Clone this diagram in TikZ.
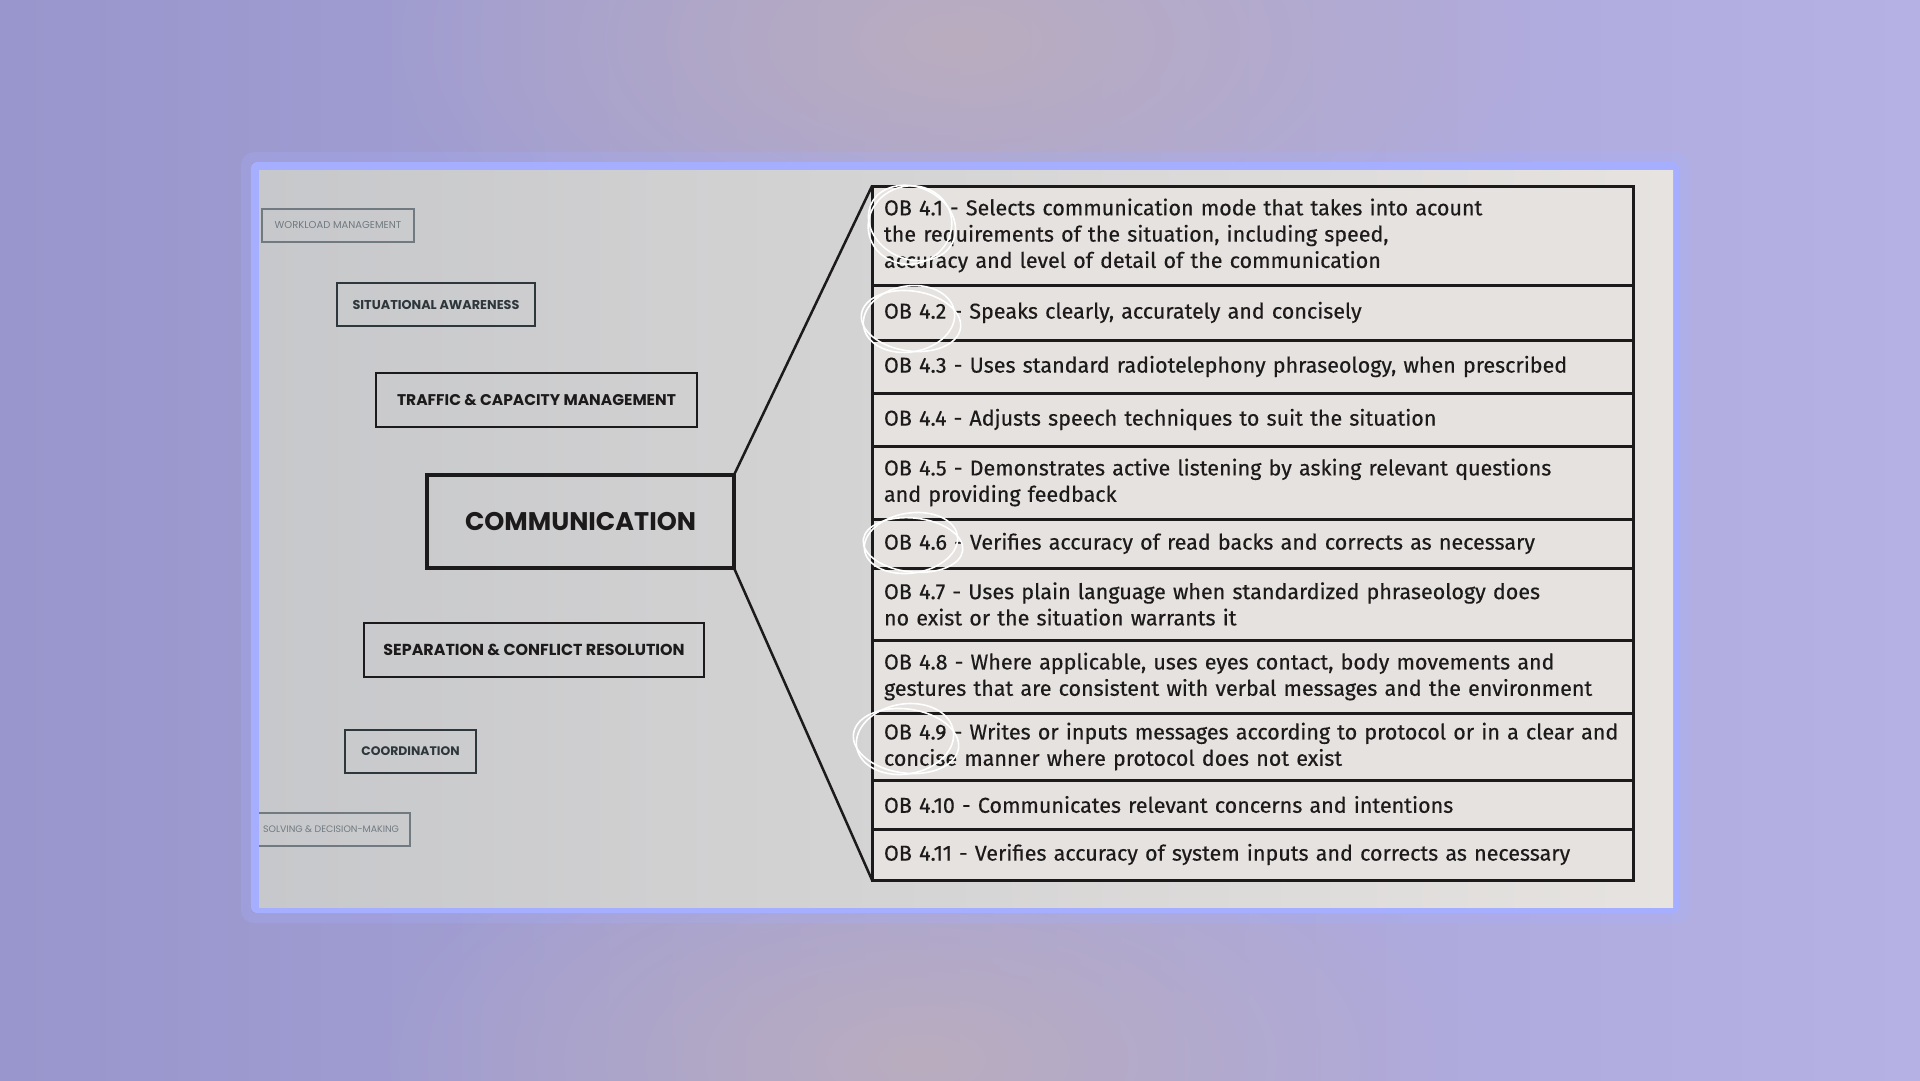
\documentclass[tikz,border=0pt]{standalone}
\usepackage{fontspec}
\setmainfont{Fira Sans}
\newfontfamily\obfont{Fira Sans}[FakeBold=0.4]
\newfontfamily\capsfont{Poppins}
\usetikzlibrary{calc,fadings}

\definecolor{bgleft}{RGB}{152,150,204}
\definecolor{bgmid}{RGB}{172,166,212}
\definecolor{bgright}{RGB}{182,177,228}
\definecolor{bgwarm}{RGB}{188,174,188}
\definecolor{panelblue}{RGB}{166,174,255}
\definecolor{panelleft}{RGB}{199,200,203}
\definecolor{panelright}{RGB}{230,227,224}
\definecolor{rowfill}{RGB}{229,226,223}
\definecolor{inkdark}{RGB}{28,26,26}
\definecolor{inkmid}{RGB}{45,55,60}
\definecolor{inkfaint}{RGB}{112,122,128}

\tikzfading[name=softglow, inner color=transparent!0, outer color=transparent!100]

\tikzset{
  catbox/.style={draw=inkdark, text=inkdark, rectangle, inner sep=0pt, outer sep=0pt},
  obrow/.style={draw=inkdark, line width=3pt, fill=rowfill, anchor=north west,
    minimum width=761pt, text width=737pt, inner xsep=12pt, inner ysep=0pt,
    align=left, outer sep=0pt, text=inkdark,
    font=\obfont\fontsize{21.5}{26.3}\selectfont},
  fanline/.style={draw=inkdark, line width=2.5pt},
  scribble/.style={draw=white, line width=1.6pt},
}

\begin{document}
\begin{tikzpicture}[x=1pt,y=-1pt]
        \useasboundingbox (0,0) rectangle (1920,1080);
        % background and framed panel
        \shade[left color=bgleft, middle color=bgmid, right color=bgright] (0,0) rectangle (1920,1080);
        \fill[bgwarm, path fading=softglow, opacity=0.9] (960,40) ellipse [x radius=600, y radius=300];
        \fill[bgwarm, path fading=softglow, opacity=0.9] (920,1060) ellipse [x radius=560, y radius=280];
        \draw[panelblue, opacity=0.25, line width=10pt, rounded corners=8pt] (246,157) rectangle (1684,918);
        \fill[panelblue, rounded corners=6pt] (251,162) rectangle (1679,913);
        \shade[left color=panelleft, right color=panelright] (259,170) rectangle (1673,907);

        % competency boxes
        \node[catbox, draw=inkfaint, text=inkfaint, line width=1.5pt, minimum width=152pt, minimum height=33pt,
              font=\capsfont\fontsize{10}{12}\selectfont] (workload) at (338,225.5) {WORKLOAD MANAGEMENT};
        \node[catbox, draw=inkmid, text=inkmid, line width=1.6pt, minimum width=198pt, minimum height=43pt,
              font=\capsfont\bfseries\fontsize{12.8}{15}\selectfont] (awareness) at (436,304.5) {SITUATIONAL AWARENESS};
        \node[catbox, line width=2pt, minimum width=321pt, minimum height=54pt,
              font=\capsfont\bfseries\fontsize{15.5}{18}\selectfont] (traffic) at (536.5,400) {TRAFFIC \& CAPACITY MANAGEMENT};
        \node[catbox, line width=3.5pt, minimum width=307pt, minimum height=93pt,
              font=\capsfont\bfseries\fontsize{25.5}{30}\selectfont] (comm) at (580.5,521.5) {COMMUNICATION};
        \node[catbox, line width=2pt, minimum width=340pt, minimum height=54pt,
              font=\capsfont\bfseries\fontsize{15.9}{18}\selectfont] (separation) at (534,650) {SEPARATION \& CONFLICT RESOLUTION};
        \node[catbox, draw=inkmid, text=inkmid, line width=1.6pt, minimum width=131pt, minimum height=43pt,
              font=\capsfont\bfseries\fontsize{12.4}{14}\selectfont] (coord) at (410.5,751.5) {COORDINATION};
        \begin{scope}
          \clip (259,170) rectangle (1673,907);
          \node[catbox, draw=inkfaint, text=inkfaint, line width=1.5pt, anchor=east, inner xsep=11pt,
                minimum height=33pt, font=\capsfont\fontsize{9.4}{12}\selectfont] (solving) at (410,829.5) {SOLVING \& DECISION-MAKING};
        \end{scope}

        % observable behaviours
        \node[obrow, minimum height=99pt] (ob1) at (872,186) {OB 4.1 - Selects communication mode that takes into acount\\the requirements of the situation, including speed,\\accuracy and level of detail of the communication};
        \node[obrow, minimum height=55pt] (ob2) at (872,285) {OB 4.2 - Speaks clearly, accurately and concisely};
        \node[obrow, minimum height=53pt] (ob3) at (872,340) {OB 4.3 - Uses standard radiotelephony phraseology, when prescribed};
        \node[obrow, minimum height=53pt] (ob4) at (872,393) {OB 4.4 - Adjusts speech techniques to suit the situation};
        \node[obrow, minimum height=73pt] (ob5) at (872,446) {OB 4.5 - Demonstrates active listening by asking relevant questions\\and providing feedback};
        \node[obrow, minimum height=49pt] (ob6) at (872,519) {OB 4.6 - Verifies accuracy of read backs and corrects as necessary};
        \node[obrow, minimum height=72pt] (ob7) at (872,568) {OB 4.7 - Uses plain language when standardized phraseology does\\no exist or the situation warrants it};
        \node[obrow, minimum height=73pt] (ob8) at (872,640) {OB 4.8 - Where applicable, uses eyes contact, body movements and\\gestures that are consistent with verbal messages and the environment};
        \node[obrow, minimum height=67pt] (ob9) at (872,713) {OB 4.9 - Writes or inputs messages according to protocol or in a clear and\\concise manner where protocol does not exist};
        \node[obrow, minimum height=49pt] (ob10) at (872,780) {OB 4.10 - Communicates relevant concerns and intentions};
        \node[obrow, minimum height=51pt] (ob11) at (872,829) {OB 4.11 - Verifies accuracy of system inputs and corrects as necessary};

        % fan from the competency to its list
        \draw[fanline] (comm.north east) -- (ob1.north west);
        \draw[fanline] (comm.south east) -- (ob11.south west);

        % hand-drawn rings
        \draw[scribble] (912,223) ellipse [x radius=45, y radius=36, rotate=-25];
        \draw[scribble] (910,225) ellipse [x radius=42, y radius=39, rotate=15];
        \draw[scribble] (911,321) ellipse [x radius=50, y radius=30, rotate=-8];
        \draw[scribble] (909,319) ellipse [x radius=46, y radius=33, rotate=10];
        \draw[scribble] (913,545) ellipse [x radius=50, y radius=27, rotate=-6];
        \draw[scribble] (911,543) ellipse [x radius=47, y radius=30, rotate=9];
        \draw[scribble] (906,741) ellipse [x radius=53, y radius=32, rotate=-8];
        \draw[scribble] (905,739) ellipse [x radius=49, y radius=35, rotate=10];
      \end{tikzpicture}
\end{document}
